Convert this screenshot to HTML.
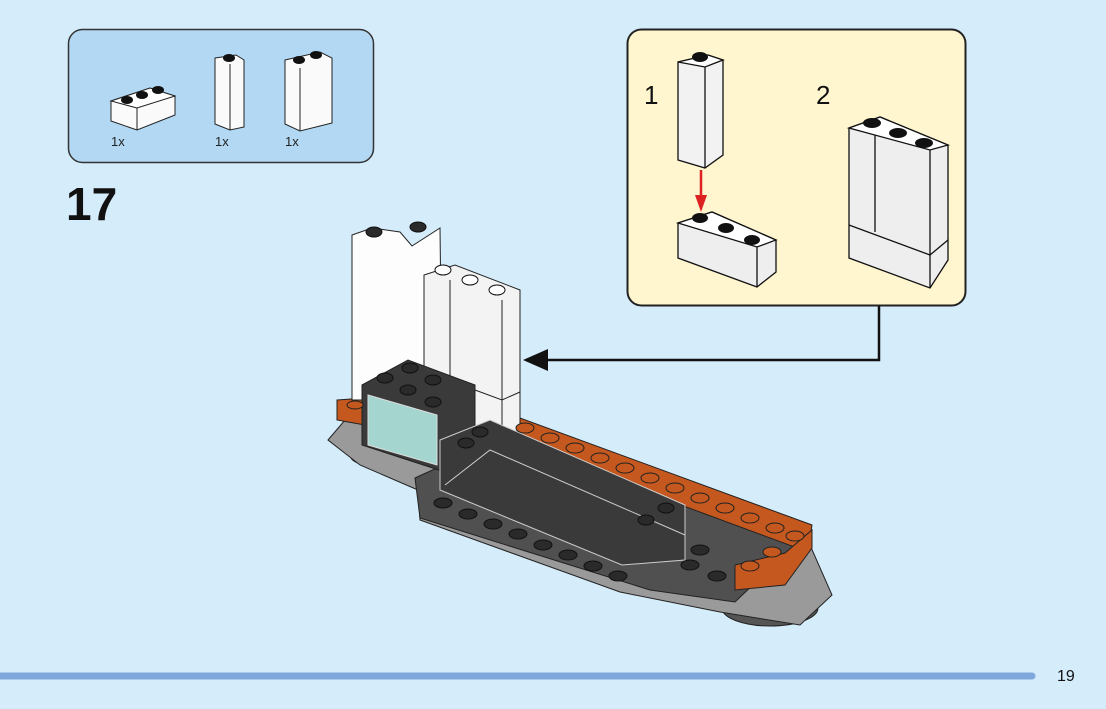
<!DOCTYPE html>
<html><head><style>
html,body{margin:0;padding:0;background:#d5ecfb;}
svg{display:block;font-family:"Liberation Sans",sans-serif;}
</style></head><body>
<svg width="1106" height="709" viewBox="0 0 1106 709" xmlns="http://www.w3.org/2000/svg">
<rect width="1106" height="709" fill="#d5ecfb"/>
<rect x="68.5" y="29.5" width="305" height="133" rx="14" fill="#b3d8f3" stroke="#333" stroke-width="1.5"/>
<g stroke="#222" stroke-width="1">
<polygon points="111,101 150,88 175,96 175,115 137,130 111,121" fill="#fafafa"/>
<polygon points="111,101 150,88 175,96 137,108" fill="#fff"/>
<line x1="137" y1="108" x2="137" y2="130"/>
<polygon points="215,58 236,55 244,60 244,127 230,130 215,124" fill="#fafafa"/>
<line x1="230" y1="64" x2="230" y2="130"/>
<polygon points="285,60 320,52 332,58 332,123 300,131 285,124" fill="#fafafa"/>
<line x1="300" y1="68" x2="300" y2="131"/>
</g>
<g fill="#111"><ellipse cx="127" cy="100" rx="6" ry="4"/><ellipse cx="142" cy="95" rx="6" ry="4"/><ellipse cx="158" cy="90" rx="6" ry="4"/>
<ellipse cx="229" cy="58" rx="6" ry="4"/><ellipse cx="299" cy="60" rx="6" ry="4"/><ellipse cx="316" cy="55" rx="6" ry="4"/></g>
<g font-size="13" fill="#222"><text x="111" y="146">1x</text><text x="215" y="146">1x</text><text x="285" y="146">1x</text></g>
<text x="66" y="220" font-size="46" font-weight="bold" fill="#111">17</text>
<rect x="627.5" y="29.5" width="338" height="276" rx="14" fill="#fff5cf" stroke="#222" stroke-width="2"/>
<polyline points="879,306 879,360 545,360" fill="none" stroke="#111" stroke-width="2.5"/>
<polygon points="523,360 548,349 548,371" fill="#111"/>
<text x="644" y="104" font-size="26" fill="#111">1</text>
<text x="816" y="104" font-size="26" fill="#111">2</text>
<g stroke="#111" stroke-width="1.3">
<polygon points="678,62 708,55 723,60 723,155 705,168 678,160" fill="#f2f2f2"/>
<polygon points="678,62 708,55 723,60 705,67" fill="#fff"/>
<line x1="705" y1="67" x2="705" y2="168"/>
<polygon points="678,223 712,212 776,240 776,272 757,287 678,258" fill="#eee"/>
<polygon points="678,223 712,212 776,240 757,247" fill="#fff"/>
<line x1="757" y1="247" x2="757" y2="287"/>
<polygon points="849,128 880,117 948,145 948,260 930,288 849,258" fill="#eee"/>
<polygon points="849,128 880,117 948,145 930,150" fill="#fff"/>
<line x1="930" y1="150" x2="930" y2="288"/><line x1="875" y1="135" x2="875" y2="232"/>
<polyline points="849,225 930,255 948,240" fill="none"/>
</g>
<g fill="#111"><ellipse cx="700" cy="57" rx="8" ry="5"/><ellipse cx="700" cy="218" rx="8" ry="5"/><ellipse cx="726" cy="228" rx="8" ry="5"/><ellipse cx="752" cy="240" rx="8" ry="5"/>
<ellipse cx="872" cy="123" rx="9" ry="5"/><ellipse cx="898" cy="133" rx="9" ry="5"/><ellipse cx="924" cy="143" rx="9" ry="5"/></g>
<line x1="701" y1="170" x2="701" y2="198" stroke="#d22" stroke-width="2.5"/>
<polygon points="695,195 707,195 701,212" fill="#d22"/>
<g stroke="#222" stroke-width="1">
<ellipse cx="380" cy="455" rx="30" ry="12" fill="#555"/>
<ellipse cx="770" cy="608" rx="48" ry="18" fill="#555"/>
<polygon points="328,440 345,420 520,430 810,545 832,595 800,625 720,612 620,592 420,520 418,490 360,465" fill="#9a9a9a"/>
<polygon points="415,478 520,430 800,540 735,602 650,590 420,518" fill="#505050"/>
<polygon points="505,420 520,418 812,525 808,552 505,440" fill="#c5581e"/>
<polygon points="735,565 785,553 812,530 812,548 785,585 735,590" fill="#c5581e"/>
<polygon points="337,400 365,398 365,425 337,420" fill="#c5581e"/>
<polygon points="352,235 372,228 400,232 412,246 440,228 442,400 352,400" fill="#fdfdfd"/>
<polygon points="424,275 455,265 520,290 520,430 475,445 424,420" fill="#f3f3f3"/>
<line x1="450" y1="280" x2="450" y2="420"/><line x1="502" y1="300" x2="502" y2="425"/>
<polyline points="475,390 502,400 520,392" fill="none"/>
<polygon points="362,385 408,360 475,385 475,445 445,472 362,445" fill="#3a3a3a"/>
<polygon points="368,395 437,415 437,465 368,445" fill="#a4d6cf" stroke="#ddd"/>
<polygon points="440,440 490,420 685,505 685,560 622,565 440,490" fill="#3a3a3a" stroke="#ccc"/>
<polyline points="445,485 490,450 685,535" fill="none" stroke="#ccc"/>
</g>
<g fill="#c5581e" stroke="#222" stroke-width="1">
<ellipse cx="525" cy="428" rx="9" ry="5"/><ellipse cx="550" cy="438" rx="9" ry="5"/><ellipse cx="575" cy="448" rx="9" ry="5"/><ellipse cx="600" cy="458" rx="9" ry="5"/><ellipse cx="625" cy="468" rx="9" ry="5"/><ellipse cx="650" cy="478" rx="9" ry="5"/><ellipse cx="675" cy="488" rx="9" ry="5"/><ellipse cx="700" cy="498" rx="9" ry="5"/><ellipse cx="725" cy="508" rx="9" ry="5"/><ellipse cx="750" cy="518" rx="9" ry="5"/><ellipse cx="775" cy="528" rx="9" ry="5"/><ellipse cx="795" cy="536" rx="9" ry="5"/><ellipse cx="750" cy="566" rx="9" ry="5"/><ellipse cx="772" cy="552" rx="9" ry="5"/><ellipse cx="355" cy="405" rx="8" ry="4"/>
</g>
<g fill="#2a2a2a" stroke="#111" stroke-width="1">
<ellipse cx="443" cy="503" rx="9" ry="5"/><ellipse cx="468" cy="514" rx="9" ry="5"/><ellipse cx="493" cy="524" rx="9" ry="5"/><ellipse cx="518" cy="534" rx="9" ry="5"/><ellipse cx="543" cy="545" rx="9" ry="5"/><ellipse cx="568" cy="555" rx="9" ry="5"/><ellipse cx="593" cy="566" rx="9" ry="5"/><ellipse cx="618" cy="576" rx="9" ry="5"/><ellipse cx="690" cy="565" rx="9" ry="5"/><ellipse cx="717" cy="576" rx="9" ry="5"/><ellipse cx="700" cy="550" rx="9" ry="5"/>
<ellipse cx="385" cy="378" rx="8" ry="5"/><ellipse cx="410" cy="368" rx="8" ry="5"/><ellipse cx="408" cy="390" rx="8" ry="5"/><ellipse cx="433" cy="380" rx="8" ry="5"/><ellipse cx="433" cy="402" rx="8" ry="5"/><ellipse cx="466" cy="443" rx="8" ry="5"/><ellipse cx="480" cy="432" rx="8" ry="5"/><ellipse cx="646" cy="520" rx="8" ry="5"/><ellipse cx="666" cy="508" rx="8" ry="5"/>
<ellipse cx="374" cy="232" rx="8" ry="5"/><ellipse cx="418" cy="227" rx="8" ry="5"/>
</g>
<g fill="#fff" stroke="#111"><ellipse cx="443" cy="270" rx="8" ry="5"/><ellipse cx="470" cy="280" rx="8" ry="5"/><ellipse cx="497" cy="290" rx="8" ry="5"/></g>
<line x1="0" y1="676" x2="1032" y2="676" stroke="#7fa7dc" stroke-width="7" stroke-linecap="round"/>
<text x="1057" y="681" font-size="16" fill="#111">19</text>
</svg>
</body></html>
